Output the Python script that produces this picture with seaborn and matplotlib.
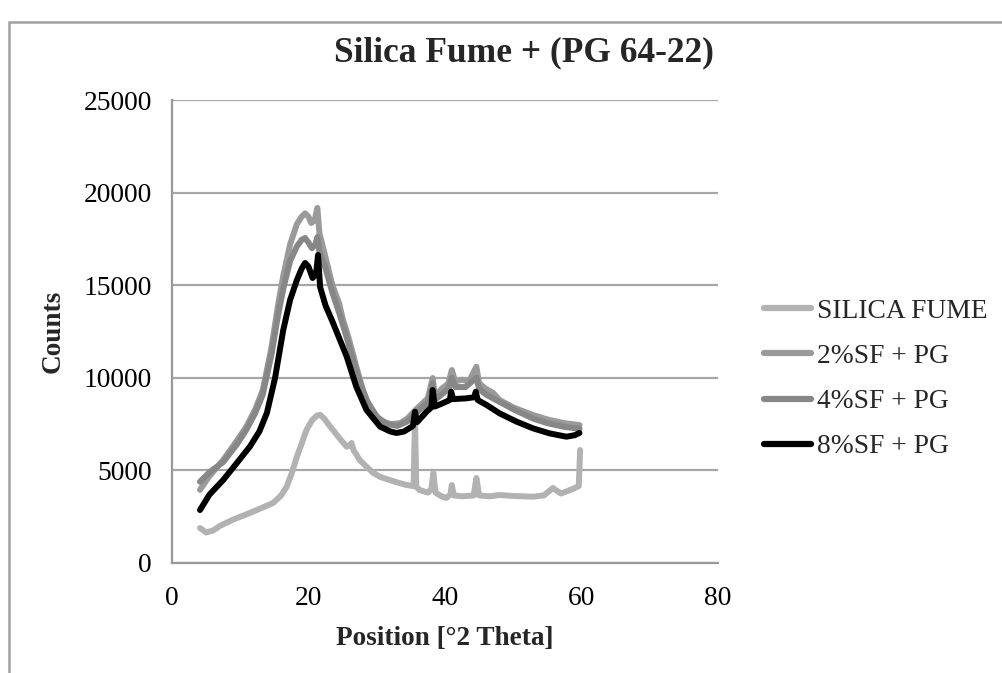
import matplotlib
matplotlib.use("Agg")
import matplotlib.pyplot as plt
import seaborn as sns
import pandas as pd
from matplotlib.patches import Rectangle

# ---- data ----
sf_x = [4.1, 5.0, 6.0, 7.0, 9.0, 11.4, 13.0, 14.8, 16.0, 16.8, 17.5, 18.3, 19.0, 19.7, 20.5,
        21.2, 21.7, 22.3, 23.0, 23.6, 24.5, 25.6, 26.1, 26.3, 26.6, 27.5, 28.5, 29.5, 30.5,
        31.9, 33.0, 34.4, 35.4, 35.6, 35.8, 36.3, 37.5, 38.0, 38.3, 38.6, 39.5, 40.2, 40.8,
        41.0, 41.3, 42.5, 44.2, 44.6, 45.0, 46.5, 48.0, 50.0, 52.9, 54.5, 55.8, 57.0, 58.7,
        59.6, 59.8]
sf_y = [1890, 1650, 1750, 2000, 2350, 2700, 2950, 3240, 3650, 4120, 4800, 5740, 6450, 7180, 7700,
        7950, 8000, 7800, 7450, 7180, 6750, 6280, 6350, 6480, 6100, 5560, 5200, 4860, 4650,
        4480, 4350, 4210, 4150, 7800, 4100, 3940, 3800, 4000, 4860, 3800, 3600, 3510, 3700,
        4210, 3650, 3600, 3650, 4590, 3650, 3600, 3670, 3620, 3580, 3650, 4050, 3750, 4000,
        4150, 6100]

p2_x = [4.1, 5.5, 7.5, 9.5, 10.9, 12.2, 13.3, 14.6, 15.5, 16.3, 17.3, 18.3, 19.0, 19.5, 20.0,
        20.4, 20.9, 21.3, 21.6, 22.5, 23.5, 24.5, 25.0, 26.0, 27.0, 28.0, 29.0, 30.5, 32.0,
        33.4, 34.5, 35.5, 36.5, 37.5, 38.2, 38.5, 39.5, 40.5, 41.0, 41.5, 42.5, 43.5, 44.6,
        45.0, 46.0, 47.0, 48.0, 50.0, 52.9, 55.0, 57.5, 59.7]
p2_y = [3950, 4700, 5560, 6600, 7360, 8300, 9340, 11680, 13840, 15500, 17200, 18300, 18700, 18880, 18700,
        18360, 18500, 19170, 17800, 16500, 15000, 14000, 13200, 12000, 10600, 9300, 8400, 7700, 7500,
        7550, 7800, 8200, 8550, 8900, 9990, 9000, 9400, 9700, 10420, 9800, 9900, 9800, 10600,
        9700, 9400, 9200, 8800, 8400, 7990, 7750, 7550, 7450]

p4_x = [4.1, 5.5, 7.5, 9.5, 10.9, 12.2, 13.3, 14.6, 15.5, 16.3, 17.3, 18.3, 19.0, 19.5, 20.0,
        20.5, 21.0, 21.3, 21.6, 22.5, 23.5, 24.5, 25.5, 26.5, 27.5, 28.5, 30.0, 31.5, 33.0,
        34.5, 35.5, 36.5, 37.5, 38.2, 38.5, 39.5, 40.5, 41.0, 41.5, 43.0, 44.6, 45.0, 46.0,
        48.0, 50.0, 52.9, 55.0, 57.5, 59.7]
p4_y = [4390, 4900, 5450, 6400, 7200, 8100, 9100, 11300, 13300, 14800, 16300, 17100, 17450, 17550, 17300,
        17000, 17200, 17600, 16800, 15900, 14600, 13500, 12300, 11000, 9800, 8800, 7900, 7500, 7400,
        7650, 8000, 8350, 8650, 9700, 8800, 9100, 9400, 10000, 9500, 9500, 10000, 9400, 9100,
        8700, 8300, 7800, 7550, 7350, 7250]

p8_x = [4.1, 5.5, 7.5, 9.5, 11.4, 12.8, 13.9, 15.1, 16.3, 17.3, 18.3, 19.0, 19.5, 20.0, 20.6,
        21.1, 21.4, 21.7, 22.5, 23.6, 24.6, 25.6, 27.0, 28.5, 30.5, 32.0, 32.9, 34.0, 35.3,
        35.6, 35.9, 37.3, 38.0, 38.2, 38.5, 39.5, 40.7, 40.9, 41.2, 43.1, 44.3, 44.5, 44.8,
        46.1, 48.0, 50.5, 52.9, 55.3, 57.8, 59.0, 59.7]
p8_y = [2860, 3700, 4480, 5400, 6280, 7100, 8100, 9990, 12580, 14200, 15280, 15900, 16200, 16000, 15390,
        15600, 16630, 14900, 13900, 12960, 12050, 11140, 9520, 8260, 7360, 7100, 7020, 7100, 7400,
        8170, 7600, 8170, 8400, 9340, 8450, 8600, 8800, 9250, 8850, 8890, 8950, 9250, 8800,
        8530, 8080, 7630, 7270, 7000, 6820, 6900, 7020]

series_names = ["SILICA FUME", "2%SF + PG", "4%SF + PG", "8%SF + PG"]
series_colors = ["#b2b2b2", "#9a9a9a", "#878787", "#000000"]
x_ticks = [0, 20, 40, 60, 80]
y_ticks = [0, 5000, 10000, 15000, 20000, 25000]

frames = []
for name, xs, ys in zip(series_names, [sf_x, p2_x, p4_x, p8_x], [sf_y, p2_y, p4_y, p8_y]):
    frames.append(pd.DataFrame({"x": xs, "y": ys, "series": name}))
df = pd.concat(frames, ignore_index=True)

sns.set_theme(style="white")
plt.rcParams["font.family"] = ["Liberation Serif", "DejaVu Serif"]

fig = plt.figure(figsize=(10.02, 6.73), dpi=100)
ax = fig.add_axes([172 / 1002, 1 - 563 / 673, (718 - 172) / 1002, (563 - 100) / 673])

sns.lineplot(data=df, x="x", y="y", hue="series", hue_order=series_names,
             palette=dict(zip(series_names, series_colors)), sort=False, estimator=None,
             linewidth=4.3, ax=ax, legend=True)

ax.set_xlim(0, 80)
ax.set_ylim(0, 25000)
ax.set_xticks(x_ticks)
ax.set_yticks(y_ticks)
ax.yaxis.grid(True, color="#a6a6a6", linewidth=1.6)
ax.xaxis.grid(False)
ax.set_axisbelow(True)
for s in ["top", "right"]:
    ax.spines[s].set_visible(False)
for s in ["left", "bottom"]:
    ax.spines[s].set_color("#999999")
    ax.spines[s].set_linewidth(1.6)
ax.tick_params(axis="both", direction="inout", length=9, width=1.4, color="#999999",
               labelsize=19.8, labelcolor="black", pad=12)
ax.tick_params(axis="y", pad=10)
ax.set_xlabel("Position [°2 Theta]", fontsize=19.6, fontweight="bold", labelpad=11)
ax.set_ylabel("Counts", fontsize=19.6, fontweight="bold", labelpad=13)

handles, labels = ax.get_legend_handles_labels()
ax.legend_.remove()
for h in handles:
    h.set_linewidth(4.5)
fig.legend(handles, labels, loc="center left", bbox_to_anchor=(764 / 1002, 1 - 379 / 673),
           frameon=False, fontsize=19.8, handlelength=1.7, handletextpad=0.22,
           labelspacing=0.72, borderpad=0, borderaxespad=0)

fig.text(524 / 1002, 1 - 53 / 673, "Silica Fume + (PG 64-22)", ha="center", va="center",
         fontsize=25.5, fontweight="bold")

fig.patches.append(Rectangle((9 / 1002, -0.05), 1.2, 1 - 22 / 673 + 0.05,
                             transform=fig.transFigure, fill=False,
                             edgecolor="#a0a0a0", linewidth=1.8))

fig.savefig("out.png", dpi=100)
